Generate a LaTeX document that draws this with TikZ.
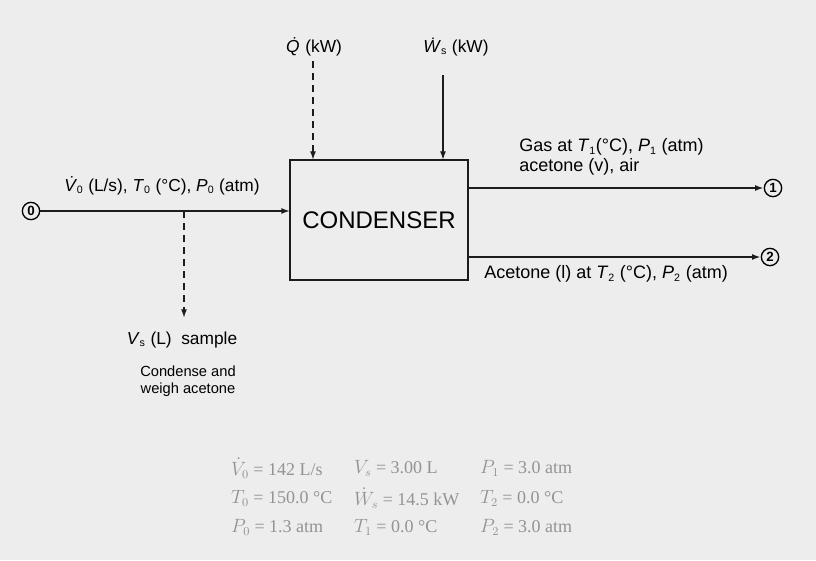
\documentclass[tikz,border=0pt]{standalone}
\usepackage{fontspec}
\setmainfont{Liberation Sans}
\newfontfamily\tabfont{Liberation Serif}
\usetikzlibrary{arrows.meta}
\definecolor{paper}{HTML}{EDEDED}
\definecolor{ink}{HTML}{1C1C1C}
\definecolor{faded}{HTML}{939393}
\newcommand\dotit[1]{\textit{\.{#1}}}
\newcommand\sub[1]{\textsubscript{\fontsize{8}{8}\selectfont#1}}
\tikzset{pf/.style={x=.75pt,y=-.75pt,line width=1.2pt,font=\fontsize{13}{15}\selectfont,>={Latex[length=6.5pt,width=4.5pt]}},
  strm/.style={->,ink},
  heat/.style={->,ink,dash pattern=on 5pt off 4pt},
  num/.style={draw,circle,inner sep=0pt,minimum size=13pt,line width=1pt,font=\fontsize{10}{10}\selectfont\bfseries},
  tabtxt/.style={anchor=west,faded,inner sep=1pt,font=\fontsize{13.5}{14}\selectfont\tabfont}}

\begin{document}
\begin{tikzpicture}[pf]
  \fill[paper] (0,0) rectangle (816,560);
  \node[draw=ink,line width=1.6pt,minimum width=133.5pt,minimum height=90pt,font=\fontsize{18}{18}\selectfont] (cond) at (379,220){CONDENSER};
  % feed
  \node[num] (s0) at (31,211){0};
  \coordinate (feedin) at (290,211);\coordinate (tap) at (184,211);\coordinate (smp) at (184,318);
  \draw[strm] (s0)--(feedin);
  \node (feedlab) at (162,186){\dotit{V}\sub{0} (L/s), \textit{T}\sub{0} (°C), \textit{P}\sub{0} (atm)};
  \draw[heat] (tap)--(smp);
  \node (smplab) at (182,340){\textit{V}\sub{s} (L)\ \ sample};
  \node[align=center,font=\fontsize{11}{12.5}\selectfont] (weigh) at (188,381){Condense and\\ weigh acetone};
  % heat and work
  \node (qlab) at (314,47){\dotit{Q} (kW)};
  \node (wlab) at (456,47){\dotit{W}\sub{s} (kW)};
  \coordinate (qin) at (313,160);\coordinate (wtop) at (443,75);\coordinate (win) at (443,160);
  \draw[heat] (qlab.south-|qin)--(qin);
  \draw[strm] (wtop)--(win);
  % products
  \node[num] (s1) at (773,188){1};
  \node[num] (s2) at (770,257){2};
  \coordinate (gasout) at (468,188);\coordinate (liqout) at (468,257);
  \draw[strm] (gasout)--(s1);
  \draw[strm] (liqout)--(s2);
  \node[anchor=west,align=left,font=\fontsize{13.5}{15}\selectfont] (gaslab) at (514,157){Gas at \textit{T}\sub{1}(°C), \textit{P}\sub{1} (atm)\\acetone (v), air};
  \node[anchor=west,font=\fontsize{13.5}{15}\selectfont] (liqlab) at (479,274){Acetone (l) at \textit{T}\sub{2} (°C), \textit{P}\sub{2} (atm)};
  % given data
  \foreach \x/\y/\t [count=\i] in {229/468/{$\dot V_0$ = 142 L/s},352/468/{$V_s$ = 3.00 L},478/468/{$P_1$ = 3.0 atm},
    229/498/{$T_0$ = 150.0 °C},352/498/{$\dot W_s$ = 14.5 kW},478/498/{$T_2$ = 0.0 °C},
    229/527/{$P_0$ = 1.3 atm},352/527/{$T_1$ = 0.0 °C},478/527/{$P_2$ = 3.0 atm}}
    \node[tabtxt] (given\i) at (\x,\y){\t};
\end{tikzpicture}
\end{document}
